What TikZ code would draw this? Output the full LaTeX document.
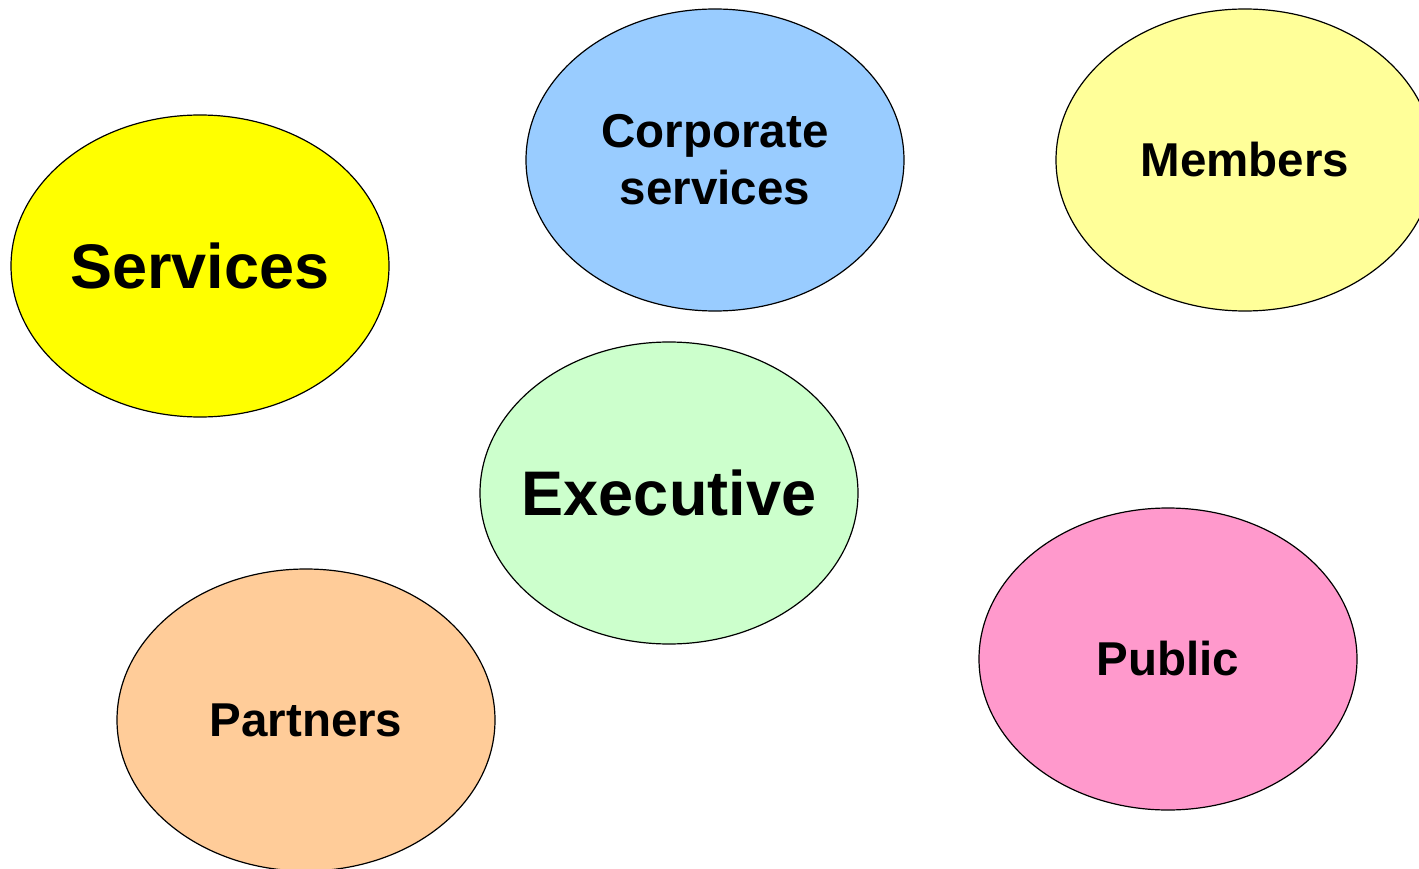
\documentclass[tikz,border=0pt]{standalone}
\usepackage{fontspec}
\setmainfont{Liberation Sans}
\usetikzlibrary{shapes.geometric}
\definecolor{cServ}{HTML}{FFFF00}
\definecolor{cCorp}{HTML}{99CCFF}
\definecolor{cMemb}{HTML}{FFFF99}
\definecolor{cExec}{HTML}{CCFFCC}
\definecolor{cPart}{HTML}{FFCC99}
\definecolor{cPubl}{HTML}{FF99CC}
\tikzset{
  blob/.style={ellipse, draw=black, line width=1.2pt, minimum width=378pt, minimum height=302pt, inner sep=0pt, align=center, font=\bfseries\fontsize{47.5}{57}\selectfont},
  big/.style={font=\bfseries\fontsize{63}{70}\selectfont}
}
\begin{document}
\begin{tikzpicture}[x=1pt,y=-1pt]
\useasboundingbox (0,0) rectangle (1419,869);
\node[blob, big, fill=cServ] (serv) at (200,266) {\makebox[0pt]{Services}};
\node[blob, fill=cCorp] (corp) at (715,160) {\raisebox{-2pt}{Corporate}\\\raisebox{-2pt}{services}};
\node[blob, fill=cMemb] (memb) at (1245,160) {Members};
\node[blob, big, fill=cExec] (exec) at (669,493) {\makebox[0pt]{Executive}};
\node[blob, fill=cPart] (part) at (306,720) {Partners};
\node[blob, fill=cPubl] (publ) at (1168,659) {Public};
\end{tikzpicture}
\end{document}
